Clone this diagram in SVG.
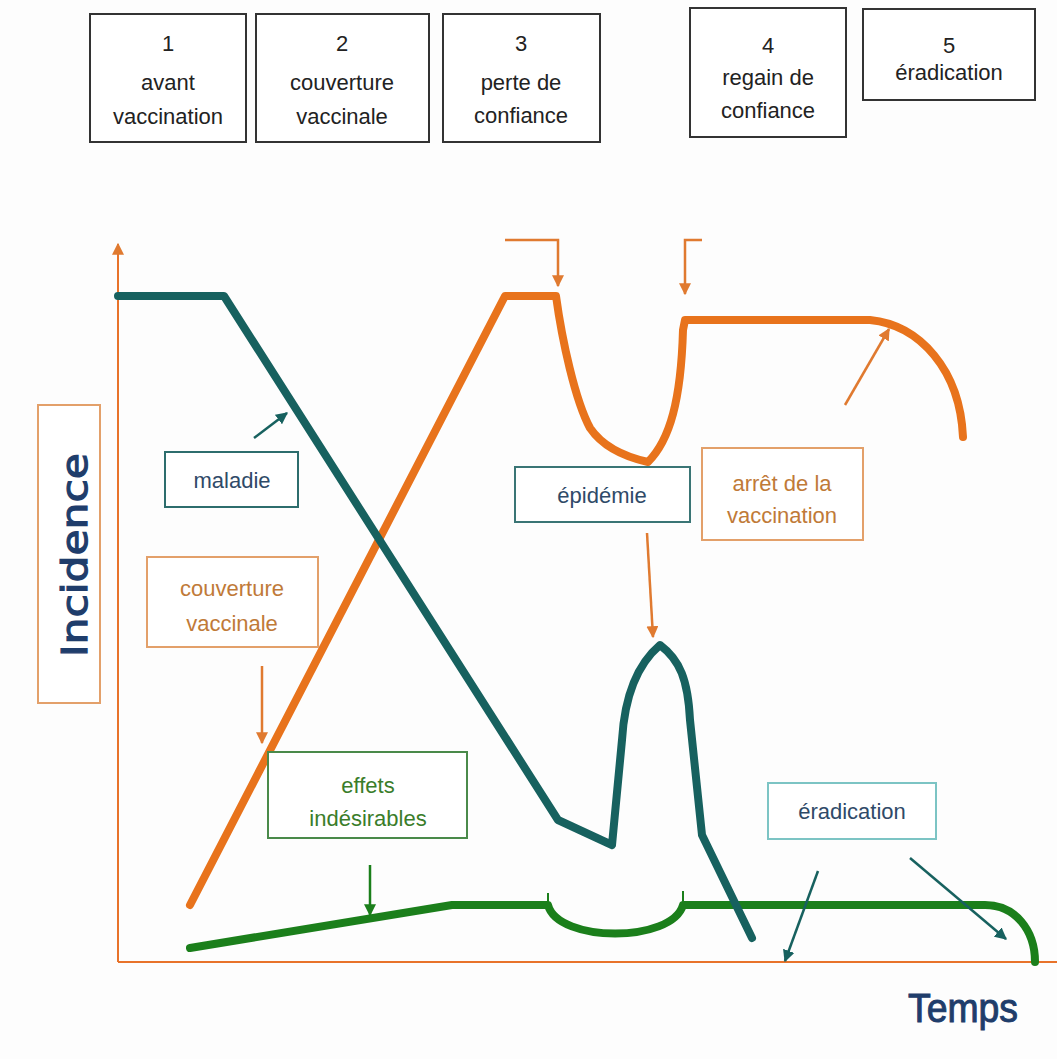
<svg xmlns="http://www.w3.org/2000/svg" width="1057" height="1059" viewBox="0 0 1057 1059">
<style>
.hb{fill:#fff;stroke:#333;stroke-width:2}
.ht{font-family:"Liberation Sans",Arial,sans-serif;font-size:22px;fill:#222;text-anchor:middle}
.lt{font-family:"Liberation Sans",Arial,sans-serif;font-size:22px;text-anchor:middle}
.curve{fill:none;stroke-linejoin:round;stroke-linecap:round}
.ax{stroke:#e8732a;stroke-width:2;fill:none}
</style>
<defs>
<marker id="at" viewBox="0 0 10 10" refX="9" refY="5" markerWidth="12" markerHeight="12" orient="auto" markerUnits="userSpaceOnUse"><path d="M0,0 L10,5 L0,10 z" fill="#17615f"/></marker>
<marker id="ag" viewBox="0 0 10 10" refX="9" refY="5" markerWidth="12" markerHeight="12" orient="auto" markerUnits="userSpaceOnUse"><path d="M0,0 L10,5 L0,10 z" fill="#1b7f1b"/></marker>
<marker id="ao2" viewBox="0 0 10 10" refX="9" refY="5" markerWidth="12" markerHeight="12" orient="auto" markerUnits="userSpaceOnUse"><path d="M0,0 L10,5 L0,10 z" fill="#e07a30"/></marker>
</defs>
<rect width="1057" height="1059" fill="#fdfdfd"/>

<g id="phase1"><rect class="hb" x="90" y="14" width="156" height="128"/><text class="ht" x="168" y="51">1</text><text class="ht" x="168" y="90">avant</text><text class="ht" x="168" y="124">vaccination</text></g>
<g id="phase2"><rect class="hb" x="256" y="14" width="173" height="128"/><text class="ht" x="342" y="51">2</text><text class="ht" x="342" y="90">couverture</text><text class="ht" x="342" y="124">vaccinale</text></g>
<g id="phase3"><rect class="hb" x="443" y="14" width="157" height="128"/><text class="ht" x="521" y="51">3</text><text class="ht" x="521" y="90">perte de</text><text class="ht" x="521" y="123">confiance</text></g>
<g id="phase4"><rect class="hb" x="690" y="8" width="156" height="129"/><text class="ht" x="768" y="53">4</text><text class="ht" x="768" y="85">regain de</text><text class="ht" x="768" y="118">confiance</text></g>
<g id="phase5"><rect class="hb" x="863" y="9" width="172" height="91"/><text class="ht" x="949" y="53">5</text><text class="ht" x="949" y="80">éradication</text></g>

<g id="axes">
<line class="ax" x1="118" y1="962" x2="118" y2="244" marker-end="url(#ao2)"/>
<line class="ax" x1="118" y1="962" x2="1057" y2="962"/>
</g>

<g id="incidence"><rect x="38" y="405" width="62" height="298" fill="#fff" stroke="#e3a06a" stroke-width="2"/><text x="0" y="0" transform="translate(87,555) rotate(-90)" font-family="'DejaVu Sans',Verdana,sans-serif" font-size="36" fill="#1f3d6b" stroke="#1f3d6b" stroke-width="1.2" text-anchor="middle" textLength="204" lengthAdjust="spacingAndGlyphs">Incidence</text></g>
<g id="temps"><text x="963" y="1022" font-family="'Liberation Sans',Arial,sans-serif" font-size="40" fill="#1f3d6b" stroke="#1f3d6b" stroke-width="1" text-anchor="middle" textLength="110" lengthAdjust="spacingAndGlyphs">Temps</text></g>

<g id="curves">
<path class="curve" d="M190,948 L452,905 L548,905 C558,943 672,943 683,905 L985,905 C1015,905 1035,930 1035,962" stroke="#1b7f1b" stroke-width="8"/>
<path d="M548,893 V905 M683,891 V905" stroke="#1b7f1b" stroke-width="2" fill="none"/>
<path class="curve" d="M190,905 L505,296 L556,296 C562,340 575,400 590,428 C605,450 630,458 648,462 C670,440 681,400 683,330 L685,320 L870,320 C920,325 960,370 963,437" stroke="#e8731c" stroke-width="8" stroke-linecap="butt"/>
<path class="curve" d="M118,296 L224,296 L558,820 L612,845 L622,740 C625,690 640,662 660,645 C680,660 688,680 690,720 L702,835 L752,938" stroke="#17615f" stroke-width="8" stroke-linecap="butt"/>
</g>

<g id="connectors" fill="none" stroke-width="2.5">
<path d="M505,240 H558 V286" stroke="#e07a30" marker-end="url(#ao2)"/>
<path d="M702,240 H685 V294" stroke="#e07a30" marker-end="url(#ao2)"/>
<line x1="845" y1="405" x2="889" y2="329" stroke="#e07a30" marker-end="url(#ao2)"/>
<line x1="647" y1="533" x2="653" y2="637" stroke="#e07a30" marker-end="url(#ao2)"/>
<line x1="262" y1="666" x2="262" y2="743" stroke="#e07a30" marker-end="url(#ao2)"/>
<line x1="254" y1="438" x2="287" y2="413" stroke="#17615f" marker-end="url(#at)"/>
<line x1="370" y1="865" x2="370" y2="915" stroke="#1b7f1b" marker-end="url(#ag)"/>
<line x1="818" y1="871" x2="785" y2="961" stroke="#17615f" marker-end="url(#at)"/>
<line x1="910" y1="858" x2="1006" y2="939" stroke="#17615f" marker-end="url(#at)"/>
</g>

<g id="maladie"><rect x="165" y="452" width="133" height="55" fill="#fff" stroke="#2d6d6d" stroke-width="2"/><text class="lt" x="232" y="488" fill="#2f4a68">maladie</text></g>
<g id="couverture"><rect x="147" y="557" width="171" height="90" fill="#fff" stroke="#e3a06a" stroke-width="2"/><text class="lt" x="232" y="596" fill="#c07a38">couverture</text><text class="lt" x="232" y="631" fill="#c07a38">vaccinale</text></g>
<g id="epidemie"><rect x="515" y="467" width="175" height="55" fill="#fff" stroke="#3a7575" stroke-width="2"/><text class="lt" x="602" y="503" fill="#2f4a68">épidémie</text></g>
<g id="arret"><rect x="702" y="448" width="161" height="92" fill="#fff" stroke="#e3a06a" stroke-width="2"/><text class="lt" x="782" y="491" fill="#c07a38">arrêt de la</text><text class="lt" x="782" y="523" fill="#c07a38">vaccination</text></g>
<g id="effets"><rect x="268" y="752" width="199" height="86" fill="#fff" stroke="#4a8a4a" stroke-width="2"/><text class="lt" x="368" y="793" fill="#3a7d2a">effets</text><text class="lt" x="368" y="826" fill="#3a7d2a">indésirables</text></g>
<g id="eradication"><rect x="768" y="783" width="168" height="56" fill="#fff" stroke="#7cc4c4" stroke-width="2"/><text class="lt" x="852" y="819" fill="#2f4a68">éradication</text></g>
</svg>
